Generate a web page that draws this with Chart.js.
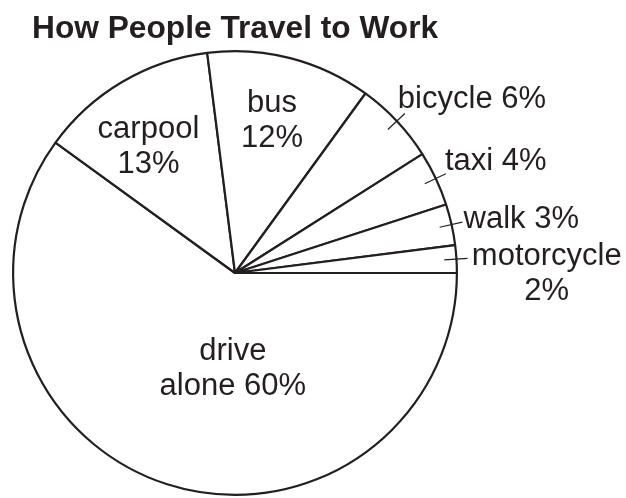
<!DOCTYPE html>
<html>
<head>
<meta charset="utf-8">
<script src="https://cdn.jsdelivr.net/npm/chart.js@4/dist/chart.umd.min.js"></script>
<style>
  html, body { margin: 0; padding: 0; background: #fff; }
  canvas { display: block; }
</style>
</head>
<body>
<canvas id="travelPie" width="626" height="498"></canvas>
<script>
  // slices listed clockwise starting at 3 o'clock
  const categories = ['drive alone', 'carpool', 'bus', 'bicycle', 'taxi', 'walk', 'motorcycle'];
  const shares = [60, 13, 12, 6, 4, 3, 2];
  const labelLines = [
    ['drive', 'alone 60%'],
    ['carpool', '13%'],
    ['bus', '12%'],
    ['bicycle 6%'],
    ['taxi 4%'],
    ['walk 3%'],
    ['motorcycle', '2%'],
  ];
  const chartTitle = 'How People Travel to Work';

  const INK = '#231f20';
  const FONT = '"Liberation Sans", Arial, Helvetica, sans-serif';

  // label placement, in fractions of the radius from the centre
  const labelPlacement = [
    { dx: -0.01, dy: 0.39, align: 'center' },
    { dx: -0.39, dy: -0.61, align: 'center' },
    { dx: 0.167, dy: -0.725, align: 'center' },
    { dx: 0.734, dy: -0.743, align: 'left', leader: true },
    { dx: 0.946, dy: -0.464, align: 'left', leader: true },
    { dx: 1.03, dy: -0.203, align: 'left', leader: true },
    { dx: 1.405, dy: -0.036, align: 'center', leader: true },
  ];

  const pieLabels = {
    id: 'pieLabels',
    afterDatasetsDraw(chart) {
      const ctx = chart.ctx;
      const arcs = chart.getDatasetMeta(0).data;
      ctx.save();

      // title
      ctx.fillStyle = INK;
      ctx.textAlign = 'left';
      ctx.textBaseline = 'alphabetic';
      ctx.font = 'bold 31.7px ' + FONT;
      ctx.fillText(chartTitle, 32, 38);

      ctx.font = '31px ' + FONT;
      arcs.forEach(function (arc, i) {
        const p = arc.getProps(['x', 'y', 'startAngle', 'endAngle', 'outerRadius'], true);
        const r = p.outerRadius;
        const place = labelPlacement[i];

        if (place.leader) {
          const mid = (p.startAngle + p.endAngle) / 2;
          ctx.strokeStyle = INK;
          ctx.lineWidth = 1.2;
          ctx.beginPath();
          ctx.moveTo(p.x + Math.cos(mid) * r * 0.945, p.y + Math.sin(mid) * r * 0.945);
          ctx.lineTo(p.x + Math.cos(mid) * r * 1.05, p.y + Math.sin(mid) * r * 1.05);
          ctx.stroke();
        }

        ctx.textAlign = place.align;
        const tx = p.x + place.dx * r;
        const ty = p.y + place.dy * r;
        labelLines[i].forEach(function (line, k) {
          ctx.fillText(line, tx, ty + k * 35);
        });
      });
      ctx.restore();
    },
  };

  new Chart(document.getElementById('travelPie'), {
    type: 'pie',
    data: {
      labels: categories,
      datasets: [{
        data: shares,
        backgroundColor: '#ffffff',
        borderColor: INK,
        borderWidth: 2.2,
      }],
    },
    options: {
      responsive: false,
      animation: false,
      rotation: 90,
      layout: { padding: { left: 12, right: 168, top: 50, bottom: 2 } },
      plugins: {
        legend: { display: false },
        tooltip: { enabled: false },
        title: { display: false },
      },
    },
    plugins: [pieLabels],
  });
</script>
</body>
</html>
